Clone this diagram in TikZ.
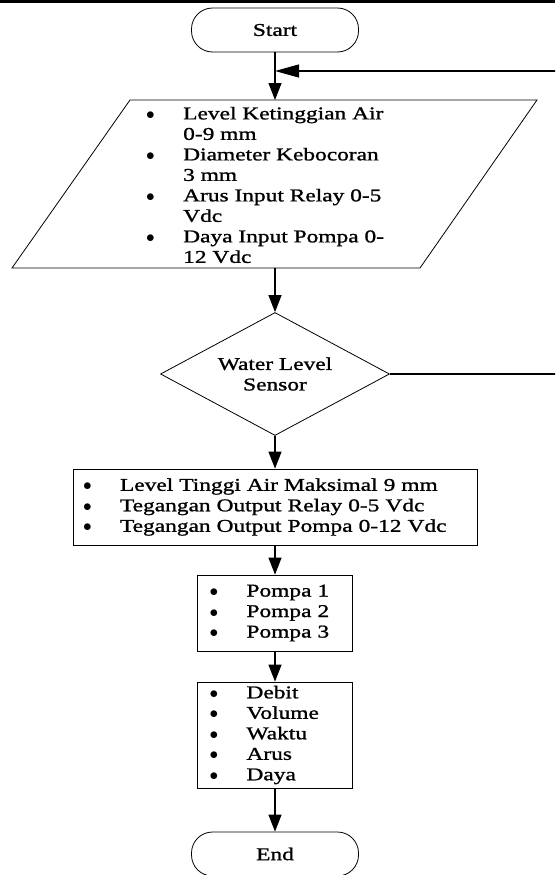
\documentclass[tikz,border=0pt]{standalone}
\usepackage{fontspec}
\setmainfont{Liberation Serif}[FakeStretch=1.3, FakeBold=1.2]
\usepackage{tikz}
\usetikzlibrary{shapes, arrows.meta, positioning}

\newcommand{\flowfont}{\fontsize{18}{20.5}\selectfont}
\newcommand{\bul}{\makebox[37pt][l]{$\bullet$}}
\newcommand{\nobul}{\hspace*{37pt}}

\begin{document}
\begin{tikzpicture}[x=1pt, y=-1pt, >={Triangle[length=17pt,width=13pt]}, % Arrow tip style
    flowline/.style={->, line width=1.2pt},
    terminal/.style={draw, rectangle, rounded corners=21pt, minimum width=167pt, minimum height=44pt, line width=0.8pt, font=\flowfont},
    decision/.style={draw, diamond, aspect=1.86, inner sep=0pt, minimum width=229pt, minimum height=123pt, line width=0.8pt, font=\flowfont, align=center},
    listbox/.style={draw, rectangle, line width=0.8pt, align=left, font=\flowfont, inner ysep=0pt}]
                        \useasboundingbox (0,0) rectangle (555,875);
                        \clip (0,0) rectangle (555,875);
                        \fill (0,0) rectangle (555,3);

                        % Start and End terminals
                        \node[terminal] (start) at (275,30) {Start};
                        \node[terminal] (end) at (275,854) {End};

                        % Input parallelogram drawn as a path, with its list inside
                        \coordinate (inNW) at (130,100);
                        \coordinate (inNE) at (537,100);
                        \coordinate (inSE) at (420,268);
                        \coordinate (inSW) at (12,268);
                        \draw[line width=0.8pt] (inNW) -- (inNE) -- (inSE) -- (inSW) -- cycle;
                        \coordinate (inTop) at (275,100);
                        \coordinate (inBot) at (275,268);
                        \node[anchor=west, inner sep=0pt, align=left, font=\flowfont] (inList) at (146,185) {%
                            \bul Level Ketinggian Air\\ \nobul 0-9 mm\\
                            \bul Diameter Kebocoran\\ \nobul 3 mm\\
                            \bul Arus Input Relay 0-5\\ \nobul Vdc\\
                            \bul Daya Input Pompa 0-\\ \nobul 12 Vdc};

                        % Sensor decision
                        \node[decision] (sensor) at (275,374) {Water Level\\Sensor};

                        % Output and result boxes
                        \node[listbox, inner xsep=10pt, text width=384pt, minimum width=404pt, minimum height=76pt] (output) at (275,507) {%
                            \bul Level Tinggi Air Maksimal 9 mm\\
                            \bul Tegangan Output Relay 0-5 Vdc\\
                            \bul Tegangan Output Pompa 0-12 Vdc};
                        \node[listbox, inner xsep=12pt, text width=131pt, minimum width=155pt, minimum height=76pt] (pompa) at (275,613) {%
                            \bul Pompa 1\\
                            \bul Pompa 2\\
                            \bul Pompa 3};
                        \node[listbox, inner xsep=12pt, text width=131pt, minimum width=155pt, minimum height=106pt] (hasil) at (275,735) {%
                            \bul Debit\\
                            \bul Volume\\
                            \bul Waktu\\
                            \bul Arus\\
                            \bul Daya};

                        % Flow lines
                        \draw[flowline] (start) -- (inTop);
                        \draw[flowline] (inBot) -- (sensor);
                        \draw[flowline] (sensor) -- (output);
                        \draw[flowline] (output) -- (pompa);
                        \draw[flowline] (pompa) -- (hasil);
                        \draw[flowline] (hasil) -- (end);

                        % Feedback line back to the input
                        \coordinate (loopR) at (560,374);
                        \coordinate (loopT) at (560,71);
                        \coordinate (loopIn) at (275,71);
                        \draw[flowline, >={Triangle[length=24pt,width=13pt]}] (sensor.east) -- (loopR) -- (loopT) -- (loopIn);

                    \end{tikzpicture}
\end{document}
